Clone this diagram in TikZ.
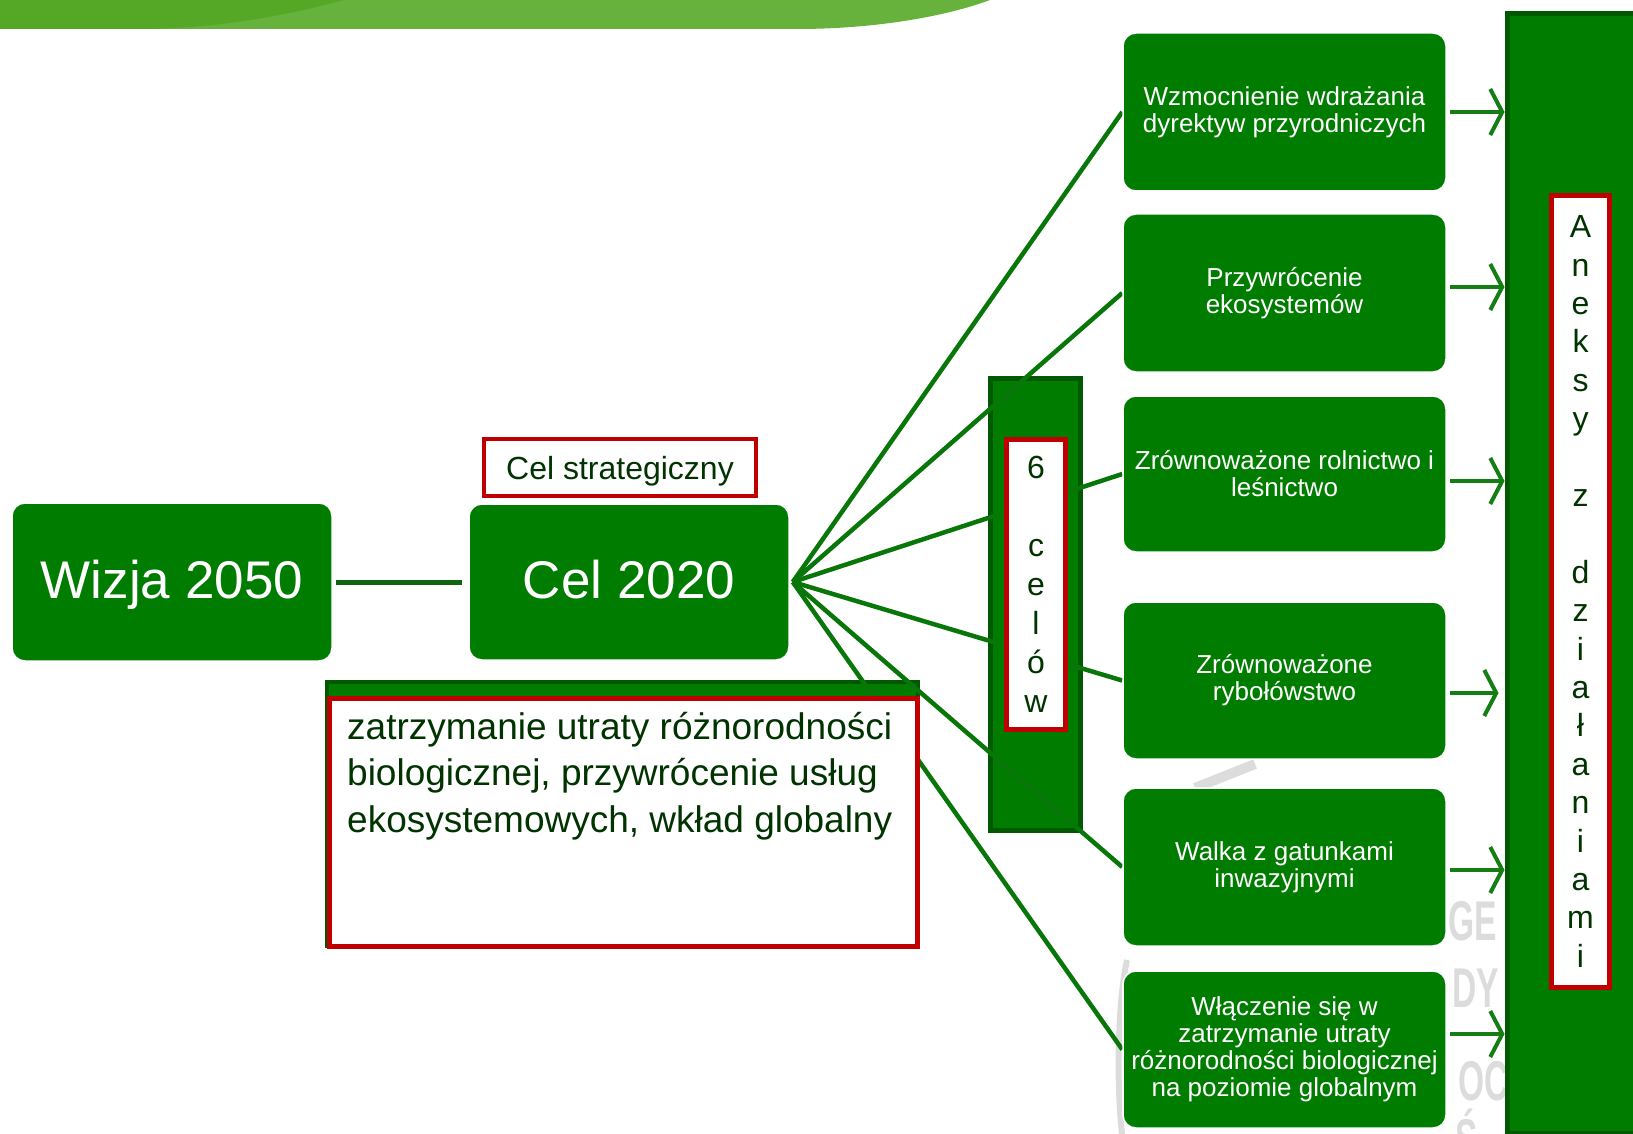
\documentclass[tikz,border=0pt]{standalone}
\usepackage{fontspec}
\setmainfont{Liberation Sans}
\usetikzlibrary{arrows.meta,calc}
\definecolor{boxgreen}{RGB}{0,125,0}
\definecolor{darkborder}{RGB}{0,88,0}
\definecolor{fanline}{RGB}{8,118,8}
\definecolor{linkline}{RGB}{16,100,16}
\definecolor{arrowgreen}{RGB}{20,125,20}
\definecolor{redbox}{RGB}{192,0,0}
\definecolor{textdark}{RGB}{0,51,0}
\definecolor{banlight}{RGB}{102,178,60}
\definecolor{bandark}{RGB}{85,168,38}
\definecolor{wmgrey}{RGB}{220,220,220}
\begin{document}
\begin{tikzpicture}[x=1pt,y=-1pt,
  gbox/.style={fill=boxgreen, draw=white, line width=1.5pt, rounded corners=13pt, inner sep=0pt, text=white, align=center},
  bigfont/.style={font=\fontsize{53}{60}\selectfont, text height=38pt, text depth=6pt},
  smallfont/.style={font=\fontsize{26}{27}\selectfont},
  redframe/.style={draw=redbox, fill=white, line width=5pt, inner sep=0pt, text=textdark},
  vertfont/.style={font=\fontsize{32}{38.4}\selectfont, align=center},
  fanl/.style={draw=fanline, line width=4.5pt},
  arr/.style={draw=arrowgreen, line width=4pt, -{Straight Barb[length=12pt, width=46pt]}},
  wm/.style={text=wmgrey, font=\fontsize{56}{60}\selectfont\bfseries, xscale=0.6, inner sep=0pt, anchor=base west}
]
\useasboundingbox (0,0) rectangle (1633,1134);
\clip (0,0) rectangle (1633,1134);

% banner
\fill[banlight] (0,0) -- (990,0) .. controls (950,15) and (880,29) .. (797,29) -- (0,29) -- cycle;
\fill[bandark] (0,0) -- (344,0) .. controls (270,20) and (200,29) .. (140,29) -- (0,29) -- cycle;

% watermark fragments
\node[wm] (wm1) at (1448,940) {GE};
\node[wm] (wm2) at (1452,1007) {DY};
\node[wm] (wm3) at (1458,1100) {OC};
\node[wm] (wm4) at (1455,1158) {Ś};
\draw[wmgrey, line width=6pt] (1127,960) .. controls (1118,1000) and (1116,1080) .. (1122,1134);
\draw[wmgrey, line width=10pt] (1195,788) -- (1255,764);

% right column boxes
\node[gbox, minimum width=323pt, minimum height=158pt, smallfont] (b1) at (1284.5,112) {Wzmocnienie wdrażania\\dyrektyw przyrodniczych};
\node[gbox, minimum width=323pt, minimum height=158pt, smallfont] (b2) at (1284.5,293) {Przywrócenie\\ekosystemów};
\node[gbox, minimum width=323pt, minimum height=156pt, smallfont] (b3) at (1284.5,474) {Zrównoważone rolnictwo i\\leśnictwo};
\node[gbox, minimum width=323pt, minimum height=157pt, smallfont] (b4) at (1284.5,680.5) {Zrównoważone\\rybołówstwo};
\node[gbox, minimum width=323pt, minimum height=158pt, smallfont] (b5) at (1284.5,867) {Walka z gatunkami\\inwazyjnymi};
\node[gbox, minimum width=323pt, minimum height=157pt, smallfont] (b6) at (1284.5,1049.5) {Włączenie się w\\zatrzymanie utraty\\różnorodności biologicznej\\na poziomie globalnym};

\node[draw=darkborder, fill=boxgreen, line width=5pt, minimum width=140pt, minimum height=1119pt, inner sep=0pt, anchor=north west] (big) at (1504.5,11.5) {};

\draw[arr] ($(b1.east)+(3,0)$) coordinate (a1) -- (a1 -| big.west);
\draw[arr] ($(b2.east)+(3,-6)$) coordinate (a2) -- (a2 -| big.west);
\draw[arr] ($(b3.east)+(3,7)$) coordinate (a3) -- (a3 -| big.west);
\draw[arr, shorten >=6pt] ($(b4.east)+(3,12.5)$) coordinate (a4) -- (a4 -| big.west);
\draw[arr] ($(b5.east)+(3,3)$) coordinate (a5) -- (a5 -| big.west);
\draw[arr] ($(b6.east)+(3,-15.5)$) coordinate (a6) -- (a6 -| big.west);

\node[redframe, vertfont, minimum width=58pt, minimum height=792pt] (aneks) at (1580.5,591.5)
  {A\\n\\e\\k\\s\\y\\~\\z\\~\\d\\z\\i\\a\\ł\\a\\n\\i\\a\\m\\i};

% six goals column
\node[draw=darkborder, fill=boxgreen, line width=5pt, minimum width=90pt, minimum height=452pt, inner sep=0pt] (celowbg) at (1035.5,604.5) {};

% strategic goal description container
\node[draw=darkborder, fill=boxgreen, line width=4pt, minimum width=591pt, minimum height=264pt, inner sep=0pt, anchor=north west] (zatbg) at (325,680) {};

% main boxes
\node[gbox, minimum width=320pt, minimum height=158pt, bigfont] (wizja) at (172,582) {Wizja 2050};
\node[gbox, minimum width=320pt, minimum height=156pt, bigfont] (cel) at (629,582) {Cel 2020};
\coordinate (fan) at ($(cel.east)+(3,0)$);

% fan connectors
\draw[fanl] (fan) -- (b1.west);
\draw[fanl] (fan) -- (b2.west);
\draw[fanl] (fan) -- (b3.west);
\draw[fanl] (fan) -- (b4.west);
\draw[fanl] (fan) -- (b5.west);
\draw[fanl] (fan) -- (b6.west);

% redraw right column boxes over connector ends
\node[gbox, minimum width=323pt, minimum height=158pt, smallfont] at (b1) {Wzmocnienie wdrażania\\dyrektyw przyrodniczych};
\node[gbox, minimum width=323pt, minimum height=158pt, smallfont] at (b2) {Przywrócenie\\ekosystemów};
\node[gbox, minimum width=323pt, minimum height=156pt, smallfont] at (b3) {Zrównoważone rolnictwo i\\leśnictwo};
\node[gbox, minimum width=323pt, minimum height=157pt, smallfont] at (b4) {Zrównoważone\\rybołówstwo};
\node[gbox, minimum width=323pt, minimum height=158pt, smallfont] at (b5) {Walka z gatunkami\\inwazyjnymi};
\node[gbox, minimum width=323pt, minimum height=157pt, smallfont] at (b6) {Włączenie się w\\zatrzymanie utraty\\różnorodności biologicznej\\na poziomie globalnym};

\node[redframe, vertfont, minimum width=59pt, minimum height=290pt, font=\fontsize{32}{39}\selectfont] (celow) at (1036,584.5) {6\\~\\c\\e\\l\\ó\\w};

\node[redframe, minimum width=588pt, minimum height=248pt, anchor=north west] (zat) at (326.5,695.5) {};
\node[anchor=north west, inner sep=0pt, align=left, text=textdark, font=\fontsize{37}{46.5}\selectfont] (zattext) at (347,706.5)
  {\strut zatrzymanie utraty różnorodności\\biologicznej, przywrócenie usług\\ekosystemowych, wkład globalny};

\node[draw=redbox, fill=white, line width=4.5pt, minimum width=272pt, minimum height=57pt, inner sep=0pt, text=textdark, font=\fontsize{32}{38}\selectfont, text height=23pt, text depth=0pt] (strat) at (620,467.5) {Cel strategiczny};

\draw[linkline, line width=5pt] ([xshift=3pt]wizja.east) -- ([xshift=-6pt]cel.west);
\end{tikzpicture}
\end{document}
